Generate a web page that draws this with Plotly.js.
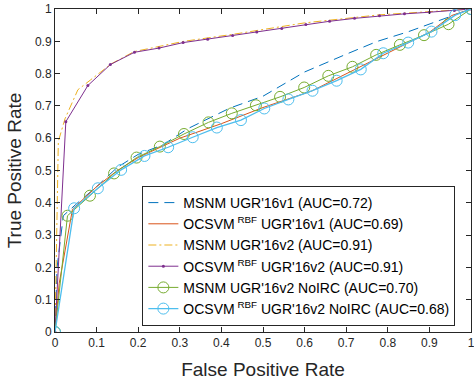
<!DOCTYPE html>
<html>
<head>
<meta charset="utf-8">
<script src="https://cdn.plot.ly/plotly-3.0.1.min.js"></script>
<style>html,body{margin:0;padding:0;background:#fff;}#chart{width:474px;height:383px;}</style>
</head>
<body>
<div id="chart"></div>
<script>
// MSNM UGR'16v1 (AUC=0.72)
const msnmV1X = [0, 0.005, 0.02, 0.05, 0.1, 0.15, 0.2, 0.26, 0.32, 0.42, 0.5, 0.6, 0.7, 0.773, 0.85, 0.957, 1];
const msnmV1Y = [0, 0.2, 0.36, 0.395, 0.45, 0.51, 0.55, 0.58, 0.63, 0.693, 0.73, 0.805, 0.86, 0.899, 0.93, 0.981, 1];
// OCSVM RBF UGR'16v1 (AUC=0.69)
const ocsvmV1X = [0, 0.01, 0.042, 0.1, 0.15, 0.2, 0.25, 0.3, 0.4, 0.5, 0.617, 0.7, 0.8, 0.9, 0.954, 1];
const ocsvmV1Y = [0, 0.15, 0.38, 0.45, 0.5, 0.54, 0.57, 0.6, 0.645, 0.695, 0.746, 0.8, 0.865, 0.928, 0.98, 1];
// MSNM UGR'16v2 (AUC=0.91)
const msnmV2X = [0, 0.008, 0.024, 0.055, 0.085, 0.135, 0.19, 0.25, 0.31, 0.43, 0.6, 0.78, 0.9, 1];
const msnmV2Y = [0, 0.59, 0.66, 0.75, 0.78, 0.83, 0.868, 0.883, 0.9, 0.922, 0.957, 0.982, 0.992, 1];
// OCSVM RBF UGR'16v2 (AUC=0.91)
const ocsvmV2X = [0, 0.026, 0.079, 0.133, 0.191, 0.25, 0.308, 0.367, 0.427, 0.485, 0.545, 0.603, 0.66, 0.72, 0.78, 0.84, 0.9, 0.96, 1];
const ocsvmV2Y = [0, 0.651, 0.763, 0.828, 0.866, 0.879, 0.896, 0.906, 0.918, 0.929, 0.94, 0.952, 0.962, 0.971, 0.979, 0.985, 0.99, 0.995, 1];
// MSNM UGR'16v2 NoIRC (AUC=0.70)
const msnmNoX = [0, 0.03, 0.084, 0.142, 0.196, 0.252, 0.31, 0.369, 0.425, 0.483, 0.541, 0.599, 0.657, 0.715, 0.772, 0.829, 0.887, 0.946, 1];
const msnmNoY = [0, 0.36, 0.422, 0.491, 0.54, 0.574, 0.613, 0.649, 0.677, 0.702, 0.728, 0.757, 0.793, 0.821, 0.858, 0.889, 0.919, 0.953, 1];
// OCSVM RBF UGR'16v2 NoIRC (AUC=0.68)
const ocsvmNoX = [0, 0.046, 0.103, 0.159, 0.215, 0.272, 0.331, 0.389, 0.447, 0.503, 0.561, 0.619, 0.677, 0.735, 0.789, 0.849, 0.905, 0.962, 1];
const ocsvmNoY = [0, 0.383, 0.445, 0.502, 0.545, 0.572, 0.603, 0.633, 0.656, 0.692, 0.72, 0.747, 0.778, 0.813, 0.863, 0.896, 0.93, 0.981, 1];

const names = [
  "MSNM UGR'16v1 (AUC=0.72)",
  "OCSVM<sup> RBF</sup> UGR'16v1 (AUC=0.69)",
  "MSNM UGR'16v2 (AUC=0.91)",
  "OCSVM<sup> RBF</sup> UGR'16v2 (AUC=0.91)",
  "MSNM UGR'16v2 NoIRC (AUC=0.70)",
  "OCSVM<sup> RBF</sup> UGR'16v2 NoIRC (AUC=0.68)"
];

const traces = [
  {x: msnmV1X, y: msnmV1Y, name: names[0], mode: 'lines', line: {color: '#0072BD', width: 1, dash: '10px,6px'}},
  {x: ocsvmV1X, y: ocsvmV1Y, name: names[1], mode: 'lines', line: {color: '#D95319', width: 1}},
  {x: msnmV2X, y: msnmV2Y, name: names[2], mode: 'lines', line: {color: '#EDB120', width: 1, dash: '8px,3px,2px,3px'}},
  {x: ocsvmV2X, y: ocsvmV2Y, name: names[3], mode: 'lines+markers', line: {color: '#7E2F8E', width: 1}, marker: {color: '#7E2F8E', size: 3, symbol: 'circle'}},
  {x: msnmNoX, y: msnmNoY, name: names[4], mode: 'lines+markers', line: {color: '#77AC30', width: 1}, marker: {color: '#77AC30', size: 11, symbol: 'circle-open', line: {width: 1, color: '#77AC30'}}},
  {x: ocsvmNoX, y: ocsvmNoY, name: names[5], mode: 'lines+markers', line: {color: '#4DBEEE', width: 1.3}, marker: {color: '#4DBEEE', size: 11, symbol: 'circle-open', line: {width: 1, color: '#4DBEEE'}}}
];

const axisCommon = {
  range: [0, 1], dtick: 0.1, tick0: 0, ticks: 'inside', ticklen: 5, tickwidth: 1, tickcolor: '#262626',
  showline: true, linecolor: '#262626', linewidth: 1, mirror: 'ticks', showgrid: false, zeroline: false,
  ticklabeloverflow: 'allow',
  tickfont: {family: 'Liberation Sans, Arial, sans-serif', size: 12, color: '#262626'}
};

const layout = {
  width: 474, height: 383,
  margin: {l: 55, r: 3, t: 9, b: 51},
  paper_bgcolor: '#fff', plot_bgcolor: '#fff',
  font: {family: 'Liberation Sans, Arial, sans-serif', color: '#262626'},
  xaxis: Object.assign({}, axisCommon, {title: {text: 'False Positive Rate', font: {size: 19, color: '#262626'}, standoff: 13}}),
  yaxis: Object.assign({}, axisCommon, {title: {text: 'True Positive Rate', font: {size: 19, color: '#262626'}, standoff: 8}}),
  showlegend: true,
  legend: {x: 0.21, y: 0.452, xanchor: 'left', yanchor: 'top', bgcolor: '#fff', bordercolor: '#262626', borderwidth: 1,
    font: {size: 14, color: '#000', family: 'Liberation Sans, Arial, sans-serif'}, tracegroupgap: 0}
};

Plotly.newPlot('chart', traces, layout, {displayModeBar: false, staticPlot: true});
</script>
</body>
</html>
